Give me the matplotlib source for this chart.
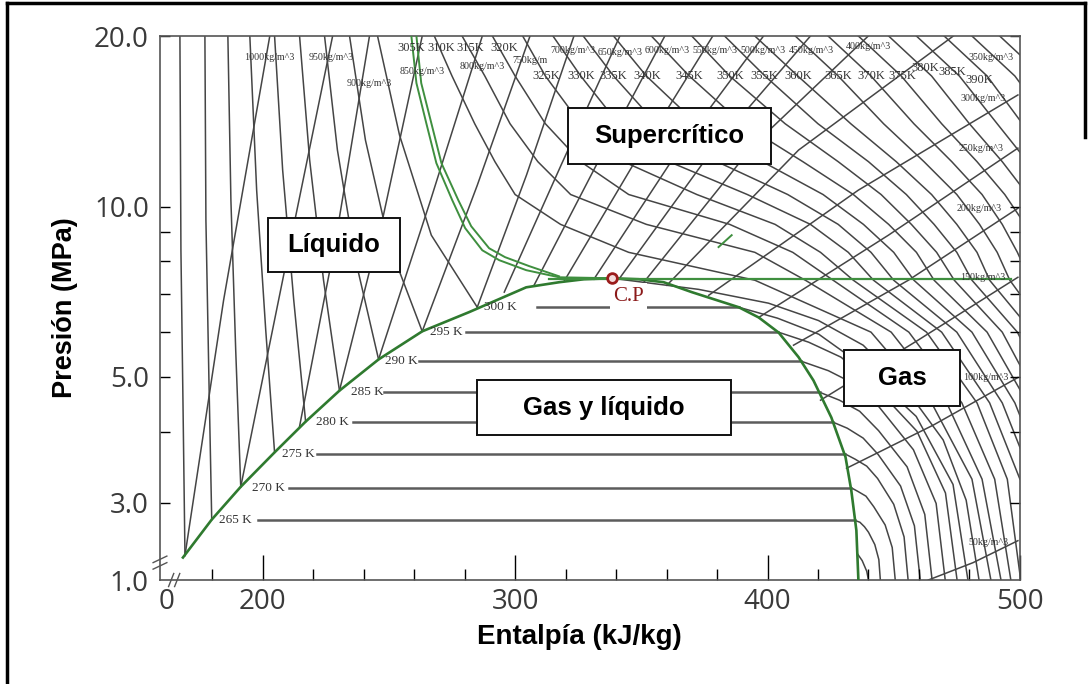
import matplotlib
matplotlib.use("Agg")
import matplotlib.pyplot as plt
from matplotlib.lines import Line2D
from matplotlib.patches import Rectangle
from matplotlib.ticker import NullFormatter

# ---------------------------------------------------------------
# CO2 pressure-enthalpy chart (h in kJ/kg, P in MPa)
# ---------------------------------------------------------------

# saturation dome
dome_liq_h = [168.4, 179.8, 191.3, 204.7, 217.0, 230.4, 245.9, 263.2, 281.8, 304.4, 317.4, 327.3, 338.4]
dome_liq_p = [2.40, 2.80, 3.20, 3.68, 4.17, 4.73, 5.37, 6.02, 6.51, 7.20, 7.35, 7.44, 7.47]
dome_vap_h = [338.4, 349.0, 358.9, 370.0, 388.6, 396.5, 404.4, 412.3, 418.2, 425.3, 430.9, 433.2, 435.2, 436.0]
dome_vap_p = [7.47, 7.44, 7.35, 7.06, 6.64, 6.37, 5.99, 5.42, 4.93, 4.24, 3.61, 3.15, 2.68, 2.19]

# critical point
cp_h, cp_p = 338.4, 7.47

# isotherms inside the two-phase region
tp_T = [265, 270, 275, 280, 285, 290, 295, 300]
tp_p = [2.79, 3.19, 3.66, 4.16, 4.70, 5.33, 6.00, 6.64]
tp_h_start = [198.0, 210.3, 221.7, 235.6, 248.2, 262.1, 280.6, 308.7]
tp_h_end = [434.7, 433.0, 430.6, 426.0, 420.6, 413.4, 404.3, 388.6]
tp_label_h = [189.3, 202.2, 214.2, 227.5, 241.3, 255.1, 272.9, 294.1]

# compressed-liquid isotherms (260-300 K)
liq_iso_h = [
    [169.2, 168.4, 167.6, 167.2],
    [179.8, 178.7, 177.5, 177.1],
    [191.3, 189.3, 187.4, 186.2],
    [204.7, 201.2, 197.6, 194.9],
    [217.0, 212.3, 207.9, 204.7],
    [230.4, 224.1, 218.6, 214.6],
    [245.9, 236.8, 229.6, 224.5],
    [263.2, 250.2, 240.7, 234.4],
    [285.0, 266.8, 254.2, 245.5],
]
liq_iso_p = [
    [2.42, 4.55, 8.37, 20.0],
    [2.80, 4.93, 9.46, 20.0],
    [3.20, 5.58, 10.26, 20.0],
    [3.68, 6.05, 10.69, 20.0],
    [4.17, 6.83, 11.60, 20.0],
    [4.73, 7.41, 12.08, 20.0],
    [5.37, 8.04, 12.58, 20.0],
    [6.02, 8.55, 13.10, 20.0],
    [6.64, 8.90, 13.37, 20.0],
]

# superheated-vapour isotherms (260-300 K) and the 305 K gas branch
vap_iso_h = [
    [435.8, 437.5, 439.3, 440.0],
    [434.7, 436.6, 438.4, 440.0, 442.5, 444.1, 444.7],
    [433.0, 435.8, 439.0, 442.1, 446.6, 449.4, 450.6],
    [430.6, 434.7, 439.3, 443.6, 450.0, 454.1, 455.7],
    [426.0, 431.6, 437.9, 443.8, 452.7, 458.2, 460.5],
    [420.6, 428.5, 436.5, 444.0, 455.3, 462.3, 465.2],
    [413.4, 424.1, 434.1, 443.6, 457.8, 466.8, 470.4],
    [404.3, 416.3, 429.1, 441.1, 459.2, 470.5, 475.1],
    [388.6, 404.0, 420.3, 435.8, 458.9, 473.5, 479.4],
    [338.4, 372.7, 400.4, 420.2, 437.9, 453.8, 469.6, 478.7, 483.8],
]
vap_iso_p = [
    [2.43, 2.37, 2.27, 2.19],
    [2.79, 2.77, 2.72, 2.66, 2.53, 2.38, 2.19],
    [3.19, 3.14, 3.08, 2.95, 2.74, 2.50, 2.19],
    [3.66, 3.58, 3.48, 3.31, 2.98, 2.61, 2.19],
    [4.16, 4.06, 3.90, 3.65, 3.21, 2.73, 2.19],
    [4.70, 4.55, 4.35, 4.02, 3.47, 2.86, 2.19],
    [5.33, 5.13, 4.87, 4.46, 3.72, 2.99, 2.19],
    [6.00, 5.76, 5.42, 4.89, 4.01, 3.12, 2.19],
    [6.64, 6.35, 5.95, 5.31, 4.26, 3.23, 2.19],
    [7.47, 7.14, 6.75, 6.29, 5.69, 4.83, 3.87, 3.03, 2.19],
]

# supercritical isotherms 310-400 K, enthalpy at a common set of pressures
sc_p_levels = [20.0, 17.0, 14.0, 12.0, 10.5, 9.3, 8.3, 7.41, 6.0, 4.5, 3.3, 2.19]
sc_T = [310, 315, 320, 325, 330, 335, 340, 345, 350, 355, 360, 365, 370, 375, 380, 385, 390, 395, 400]
sc_h = [
    [268, 275, 284, 292, 300, 318, 345, 395, 441, 465, 481, 488.5],
    [279, 288, 298, 309, 322, 352, 395, 415, 449, 471, 485, 492.5],
    [291, 300, 312, 326, 345, 385, 410, 426, 456, 477, 490, 496.4],
    [303, 312, 326, 343, 372, 403, 421, 434, 463, 483, 495, 500.3],
    [315, 326, 341, 361, 392, 417, 432, 442, 469, 488, 500],
    [327, 339, 356, 380, 408, 428, 441, 450, 475, 493, 505],
    [339, 352, 372, 398, 422, 438, 450, 458, 481, 498, 510],
    [354, 369, 390, 414, 434, 448, 459, 466, 487, 503],
    [370, 385, 407, 428, 445, 457, 467, 474, 493, 508],
    [383, 399, 420, 440, 455, 466, 475, 481, 499, 513],
    [395, 412, 433, 451, 465, 475, 483, 488, 505],
    [411, 428, 446, 462, 475, 484, 491, 496, 511],
    [424, 441, 458, 473, 485, 493, 499, 504],
    [436, 453, 469, 483, 494, 502],
    [448, 465, 480, 493, 503],
    [459, 476, 491, 503],
    [470, 487, 501],
    [481, 498, 512],
    [492, 509],
]

# critical isotherm (two close green traces) and critical isobar
crit_a_h = [258.9, 260.9, 264.8, 268.8, 275.1, 280.2, 287.0, 293.7, 304.4, 317.4, 338.4]
crit_a_p = [20.0, 16.52, 14.04, 11.93, 10.26, 9.16, 8.37, 8.04, 7.72, 7.50, 7.47]
crit_b_h = [260.9, 262.8, 266.8, 270.8, 277.5, 282.6, 289.7, 296.0, 305.5, 317.4]
crit_b_p = [20.0, 16.52, 14.04, 11.93, 10.26, 9.23, 8.44, 8.14, 7.85, 7.53]
crit_bar_h = [313.5, 496.4]
crit_bar_p = [7.44, 7.44]
green_dash_h = [380.6, 385.8]
green_dash_p = [8.48, 8.90]

# isochores (kg/m^3)
rho = [1000, 950, 900, 850, 800, 750, 700, 650, 600, 550, 500, 450, 400, 350, 300, 250, 200, 150, 100, 50]
rho_h = [
    [169.2, 184.5, 202.8], [191.3, 209.5, 227.7], [214.6, 228.9, 242.3], [230.4, 247.4, 263.2],
    [245.9, 266.5, 287.0], [263.2, 285.0, 305.9], [285.0, 304.5, 323.3], [295.7, 318.2, 341.5],
    [307.5, 333.2, 359.3], [319.4, 349.0, 378.3], [331.2, 364.8, 398.4], [341.1, 378.7, 417.0],
    [351.0, 394.5, 439.9], [360.1, 412.3, 473.6], [376.7, 436.0, 499.2], [396.5, 447.9, 499.2],
    [410.3, 455.8, 499.2], [421.0, 459.7, 499.2], [431.3, 465.6, 499.2], [463.7, 481.4, 499.2],
]
rho_p = [
    [2.42, 6.83, 20.0], [3.20, 8.04, 20.0], [4.09, 8.72, 20.0], [4.73, 9.46, 20.0],
    [5.37, 10.26, 20.0], [6.02, 10.90, 20.0], [6.64, 11.36, 20.0], [7.06, 11.83, 20.0],
    [7.26, 12.08, 20.0], [7.38, 12.32, 20.0], [7.44, 12.58, 20.0], [7.44, 12.68, 20.0],
    [7.35, 12.84, 20.0], [7.26, 12.58, 20.0], [6.97, 10.69, 15.74], [6.37, 8.90, 12.68],
    [5.69, 7.41, 9.93], [4.55, 5.81, 7.50], [3.45, 4.11, 4.99], [2.19, 2.35, 2.57],
]

# labels along the top / right border
rho_lab = ["1000kg/m^3", "950kg/m^3", "900kg/m^3", "850kg/m^3", "800kg/m^3", "750kg/m",
           "700kg/m^3", "650kg/m^3", "600kg/m^3", "550kg/m^3", "500kg/m^3", "450kg/m^3",
           "400kg/m^3", "350kg/m^3", "300kg/m^3", "250kg/m^3", "200kg/m^3", "150kg/m^3",
           "100kg/m^3", "50kg/m^3"]
rho_lab_h = [202.8, 227.3, 242.3, 263.2, 287.0, 305.9, 322.8, 341.6, 360.3, 379.2, 398.4, 417.4,
             439.9, 488.6, 485.4, 484.6, 483.8, 485.4, 486.6, 487.4]
rho_lab_p = [18.36, 18.36, 16.46, 17.28, 17.70, 18.14, 18.89, 18.74, 18.89, 18.89, 18.89, 18.89,
             19.20, 18.36, 15.54, 12.68, 9.93, 7.50, 4.99, 2.55]

t_lab = ["305K", "310K", "315K", "320K", "325K", "330K", "335K", "340K", "345K", "350K",
         "355K", "360K", "365K", "370K", "375K", "380K", "385K", "390K"]
t_lab_h = [259.0, 270.6, 282.4, 295.7, 312.3, 326.1, 338.8, 352.2, 368.8, 385.4, 398.8, 412.3,
           428.1, 441.1, 453.4, 462.3, 473.0, 483.8]
t_lab_p = [19.05, 19.05, 19.05, 19.05, 17.00, 17.00, 17.00, 17.00, 17.00, 17.00, 17.00, 17.00,
           17.00, 17.00, 17.00, 17.56, 17.28, 16.73]

MESH = "#454545"
GREEN = "#3f8f3f"
SERIF = "Liberation Serif"

fig = plt.figure(figsize=(10.92, 6.84), dpi=100)
ax = fig.add_axes([0.1465, 0.1520, 0.7875, 0.7953])
ax.set_yscale("log")
ax.set_xlim(159.3, 499.2)
ax.set_ylim(2.19, 20.0)

# mesh: isotherms and isochores
for h, p in zip(liq_iso_h, liq_iso_p):
    ax.plot(h, p, color=MESH, lw=1.1, zorder=1)
for h, p in zip(vap_iso_h, vap_iso_p):
    ax.plot(h, p, color=MESH, lw=1.1, zorder=1)
for h in sc_h:
    ax.plot(h, sc_p_levels[:len(h)], color=MESH, lw=1.1, zorder=1)
for h, p in zip(rho_h, rho_p):
    ax.plot(h, p, color=MESH, lw=1.1, zorder=1)

# two-phase isotherms with their labels
for T, p, h0, h1, hl in zip(tp_T, tp_p, tp_h_start, tp_h_end, tp_label_h):
    ax.plot([h0, h1], [p, p], color="#5c5c5c", lw=1.8, zorder=2)
    ax.text(hl, p, f"{T} K", fontsize=9.5, family=SERIF, color="#333333",
            ha="center", va="center", zorder=4)

# saturation dome, critical isotherm and isobar
ax.plot(dome_liq_h, dome_liq_p, color="#2f7a2f", lw=1.9, zorder=3)
ax.plot(dome_vap_h, dome_vap_p, color="#2f7a2f", lw=1.9, zorder=3)
ax.plot(crit_a_h, crit_a_p, color=GREEN, lw=1.4, zorder=3)
ax.plot(crit_b_h, crit_b_p, color=GREEN, lw=1.4, zorder=3)
ax.plot(crit_bar_h, crit_bar_p, color=GREEN, lw=1.6, zorder=3)
ax.plot(green_dash_h, green_dash_p, color=GREEN, lw=1.4, zorder=3)

ax.plot(cp_h, cp_p, "o", ms=7, mfc="#f4dcdc", mec="#9b1c1c", mew=2, zorder=6)
ax.text(cp_h + 6.5, 6.95, "C.P", fontsize=15, family=SERIF, color="#8b1a1a",
        ha="center", va="center", zorder=5,
        bbox=dict(boxstyle="square,pad=0.15", fc="white", ec="none"))

for s, h, p in zip(rho_lab, rho_lab_h, rho_lab_p):
    ax.text(h, p, s, fontsize=7.2, family=SERIF, color="#333333", ha="center", va="center", zorder=4)
for s, h, p in zip(t_lab, t_lab_h, t_lab_p):
    ax.text(h, p, s, fontsize=9, family=SERIF, color="#333333", ha="center", va="center", zorder=4)

# region boxes
boxes = [
    ("Líquido", 0.1256, 0.5662, 0.1535, 0.0993),
    ("Supercrítico", 0.4744, 0.7647, 0.2360, 0.1029),
    ("Gas y líquido", 0.3686, 0.2665, 0.2953, 0.1011),
    ("Gas", 0.7953, 0.3199, 0.1349, 0.1029),
]
for name, x0, y0, w, hgt in boxes:
    ax.add_patch(Rectangle((x0, y0), w, hgt, transform=ax.transAxes, fc="white",
                           ec="#111111", lw=1.4, zorder=7))
    ax.text(x0 + w / 2, y0 + hgt / 2, name, transform=ax.transAxes, fontsize=18.5,
            fontweight="bold", family="Liberation Sans", ha="center", va="center", zorder=8)

# axes, ticks and labels
ax.set_xticks([162, 200, 300, 400, 500])
ax.set_xticklabels(["0", "200", "300", "400", "500"])
ax.set_xticks([180, 220, 240, 260, 280, 320, 340, 360, 380, 420, 440, 460, 480], minor=True)
ax.set_yticks([2.19, 3, 5, 10, 20])
ax.set_yticklabels(["1.0", "3.0", "5.0", "10.0", "20.0"])
ax.set_yticks([4, 6, 7, 8, 9], minor=True)
ax.yaxis.set_minor_formatter(NullFormatter())
ax.tick_params(axis="x", which="major", direction="in", length=18, width=1, pad=6,
               labelsize=20, labelcolor="#3a3a3a")
ax.tick_params(axis="x", which="minor", direction="in", length=8, width=1)
ax.tick_params(axis="y", which="both", direction="in", length=7, width=1, right=True, pad=8,
               labelsize=20, labelcolor="#3a3a3a")
for lab in ax.get_xticklabels() + ax.get_yticklabels():
    lab.set_family("Open Sans")
ax.xaxis.get_major_ticks()[0].tick1line.set_visible(False)
ax.yaxis.get_major_ticks()[0].tick1line.set_visible(False)
ax.yaxis.get_major_ticks()[0].tick2line.set_visible(False)
for sp in ax.spines.values():
    sp.set_color("#555555")
    sp.set_linewidth(1.2)

# axis break marks
for dx in (0.010, 0.017):
    ax.plot([dx, dx + 0.006], [-0.012, 0.012], transform=ax.transAxes, color="#555555",
            lw=1, clip_on=False, zorder=9)
for dy in (0.020, 0.032):
    ax.plot([-0.008, 0.008], [dy, dy + 0.012], transform=ax.transAxes, color="#555555",
            lw=1, clip_on=False, zorder=9)

fig.text(0.0595, 0.5497, "Presión (MPa)", rotation=90, fontsize=19.5, fontweight="bold",
         family="Liberation Sans", ha="center", va="center")
fig.text(0.531, 0.0687, "Entalpía (kJ/kg)", fontsize=20, fontweight="bold",
         family="Liberation Sans", ha="center", va="center")

# outer frame
fx0, fx1, fy1 = 7 / 1092, 1085 / 1092, 1 - 3 / 684
fig.add_artist(Line2D([fx0, fx0], [0, fy1], transform=fig.transFigure, color="black", lw=2.5))
fig.add_artist(Line2D([fx0, fx1], [fy1, fy1], transform=fig.transFigure, color="black", lw=2.5))
fig.add_artist(Line2D([fx1, fx1], [0.8, fy1], transform=fig.transFigure, color="black", lw=2.5))

fig.savefig("out.png", dpi=100)
